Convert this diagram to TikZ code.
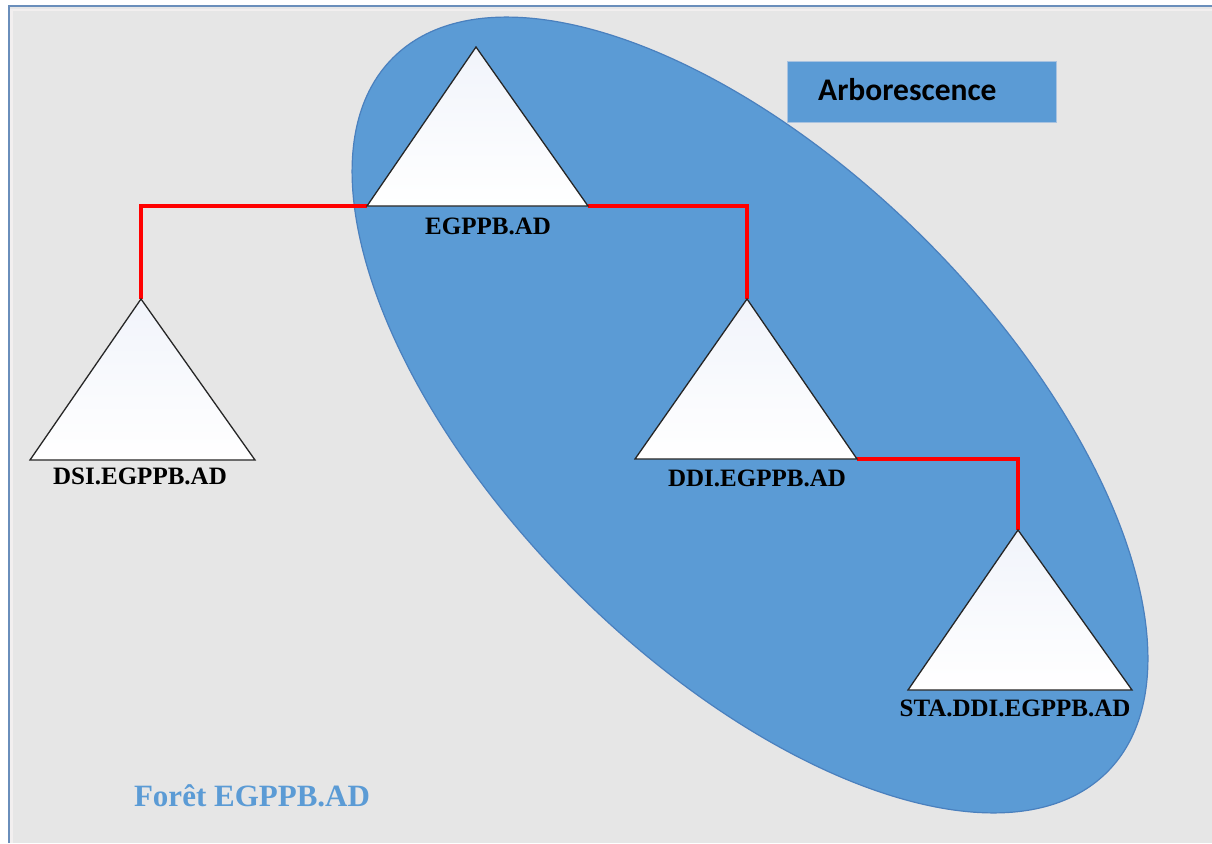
\documentclass[tikz,border=0pt]{standalone}
\usepackage{fontspec}
\setmainfont{Liberation Serif}
\newfontfamily\calibfont{Carlito}
\definecolor{bgray}{HTML}{E6E6E6}
\definecolor{eblue}{HTML}{5B9BD5}
\definecolor{eedge}{HTML}{4A80BE}
\definecolor{frameblue}{HTML}{6A8EBB}
\definecolor{framelight}{HTML}{F2EFEF}
\definecolor{foret}{HTML}{5B9BD5}
\definecolor{triTop}{HTML}{F1F4FB}
\definecolor{boxedge}{HTML}{A9C3E0}
\begin{document}
\begin{tikzpicture}[x=1pt,y=-1pt,
  tri/.style={draw=black!85, line width=1.3pt, line join=miter, top color=triTop, bottom color=white},
  redline/.style={draw=red, line width=3.2pt},
  lbl/.style={font=\fontsize{25}{29}\selectfont\bfseries, text=black, inner sep=0pt, anchor=base},
  forestlbl/.style={font=\fontsize{31}{35}\selectfont\bfseries, text=foret, inner sep=0pt, anchor=base},
  arbbox/.style={fill=eblue, draw=boxedge, line width=0.8pt, minimum width=269pt, minimum height=61pt, inner sep=0pt},
  arblbl/.style={font=\calibfont\fontsize{31.5}{35}\selectfont\bfseries, text=black, inner sep=0pt, anchor=base west},
  blob/.style={fill=eblue, draw=eedge, line width=1.2pt}
]
\useasboundingbox (0,0) rectangle (1212,843);
% background frame
\fill[white] (0,0) rectangle (1212,843);
\fill[bgray] (8,7) rectangle (1212,843);
\draw[framelight, line width=2.5pt] (11.5,843) -- (11.5,10) -- (1212,10);
\draw[frameblue, line width=2pt] (8.5,843) -- (8.5,6.5) -- (1212,6.5);

% tree ellipse (Arborescence)
\path[blob, rotate around={-45:(750,415)}] (750,415) ellipse [x radius=505pt, y radius=248pt];

% Arborescence box
\node[arbbox] (arb) at (921.5,91.5) {};
\node[arblbl] (arbtxt) at (818,100) {Arborescence};

% triangle corners
\coordinate (eg-t) at (476,47);   \coordinate (eg-l) at (367,206);  \coordinate (eg-r) at (588,206);
\coordinate (dsi-t) at (141,299); \coordinate (dsi-l) at (30,460);  \coordinate (dsi-r) at (255,460);
\coordinate (ddi-t) at (747,299); \coordinate (ddi-l) at (635,459); \coordinate (ddi-r) at (857,459);
\coordinate (sta-t) at (1018,530);\coordinate (sta-l) at (908,690); \coordinate (sta-r) at (1132,690);

% connectors
\draw[redline] (eg-l) -| (dsi-t);
\draw[redline] (eg-r) -| (ddi-t);
\draw[redline] (ddi-r) -| (sta-t);

% triangles
\draw[tri] (eg-t) -- (eg-r) -- (eg-l) -- cycle;
\draw[tri] (dsi-t) -- (dsi-r) -- (dsi-l) -- cycle;
\draw[tri] (ddi-t) -- (ddi-r) -- (ddi-l) -- cycle;
\draw[tri] (sta-t) -- (sta-r) -- (sta-l) -- cycle;

% labels
\node[lbl] (eglbl) at (488,234) {EGPPB.AD};
\node[lbl] (dsilbl) at (140,484) {DSI.EGPPB.AD};
\node[lbl] (ddilbl) at (757,486) {DDI.EGPPB.AD};
\node[lbl] (stalbl) at (1015,716) {STA.DDI.EGPPB.AD};
\node[forestlbl] (foretlbl) at (252,806) {Forêt EGPPB.AD};
\end{tikzpicture}
\end{document}
